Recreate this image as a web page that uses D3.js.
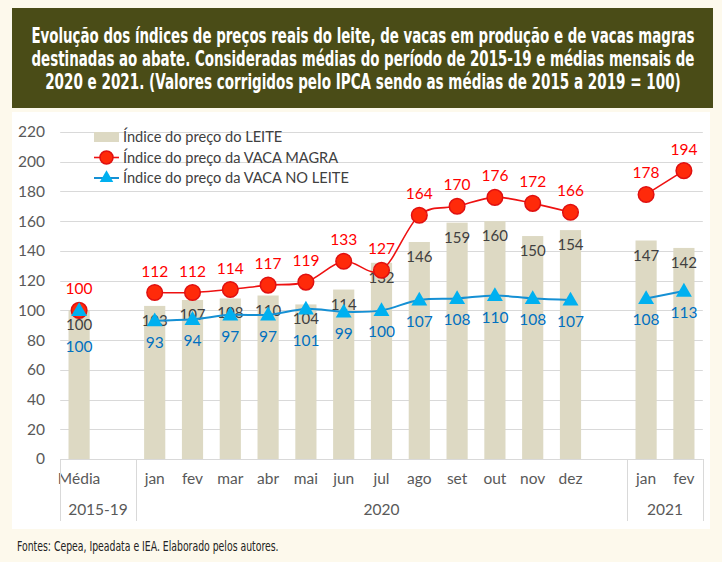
<!DOCTYPE html>
<html>
<head>
<meta charset="utf-8">
<script src="https://cdn.jsdelivr.net/npm/d3@7"></script>
<style>
  body { margin: 0; background: #fdf9ec; }
  svg { display: block; }
</style>
</head>
<body>
<script>
// categories (blank slots separate the periods, like the excel sheet)
var months = ["Média", "", "jan", "fev", "mar", "abr", "mai", "jun", "jul", "ago", "set", "out", "nov", "dez", "", "jan", "fev"];
var groupLabels = ["2015-19", "2020", "2021"];
var groupSizes = [2, 13, 2];

var leite   = [100, null, 103, 107, 108, 110, 104, 114, 132, 146, 159, 160, 150, 154, null, 147, 142];
var magra   = [100, null, 112, 112, 114, 117, 119, 133, 127, 164, 170, 176, 172, 166, null, 178, 194];
var noLeite = [100, null,  93,  94,  97,  97, 101,  99, 100, 107, 108, 110, 108, 107, null, 108, 113];

var yTicks = [0, 20, 40, 60, 80, 100, 120, 140, 160, 180, 200, 220];

var titleLines = [
  "Evolução dos índices de preços reais do leite, de vacas em produção e de vacas magras",
  "destinadas ao abate.  Consideradas médias do período de 2015-19 e médias mensais de",
  "2020 e 2021. (Valores corrigidos pelo IPCA sendo as médias de 2015 a 2019 = 100)"
];
var legendLabels = ["Índice do preço do LEITE", "Índice do preço da VACA MAGRA", "Índice do preço da VACA NO LEITE"];
var source = "Fontes: Cepea, Ipeadata e IEA. Elaborado pelos autores.";

var W = 722, H = 562;
var font = "Lato, 'Noto Sans', sans-serif";
var narrow = "'Liberation Sans Narrow', 'DejaVu Sans Condensed', sans-serif";

var svg = d3.select("body").append("svg")
    .attr("width", W)
    .attr("height", H);

svg.append("rect").attr("width", W).attr("height", H).attr("fill", "#fdf9ec");

// condensed text: size font so it fits the width, then stretch it up
function fitText(sel, txt, cxp, base, width, size, anchor, weight) {
  var t = sel.append("text")
      .style("font-family", narrow)
      .style("font-weight", weight)
      .style("font-size", size + "px")
      .attr("text-anchor", anchor)
      .text(txt);
  var len = t.node().getComputedTextLength();
  var fs = Math.min(size, size * width / len);
  var sy = size / fs;
  t.style("font-size", fs + "px")
      .attr("x", cxp)
      .attr("y", base / sy)
      .attr("transform", "scale(1," + sy + ")");
  return t;
}

// title box
svg.append("rect")
    .attr("x", 12).attr("y", 8)
    .attr("width", 701).attr("height", 100)
    .attr("fill", "#4a4c17");

var titleW = [664, 664, 636];
titleLines.forEach(function(d, i) {
  fitText(svg, d, 363, 43 + i * 23, titleW[i], 21, "middle", "bold")
      .attr("fill", "#ffffff");
});

// white chart panel
svg.append("rect")
    .attr("x", 12).attr("y", 112)
    .attr("width", 698).attr("height", 417)
    .attr("fill", "#ffffff");

// scales
var keys = months.map(function(d, i) { return i; });
var x = d3.scaleBand()
    .domain(keys)
    .range([60.2, 702.8])
    .paddingInner(0.44)
    .paddingOuter(0.22);

var y = d3.scaleLinear()
    .domain([0, 220])
    .range([459, 132]);

var g = svg.append("g");

// gridlines
g.selectAll("line.grid")
    .data(yTicks)
  .enter().append("line")
    .attr("x1", 60.2).attr("x2", 702.8)
    .attr("y1", function(d) { return Math.round(y(d)) + 0.5; })
    .attr("y2", function(d) { return Math.round(y(d)) + 0.5; })
    .attr("stroke", "#d9d9d9")
    .attr("stroke-width", 1);

// y axis labels
var yAxis = d3.axisLeft(y).tickValues(yTicks).tickSize(0).tickPadding(0);
var ya = svg.append("g").attr("transform", "translate(45,0)").call(yAxis);
ya.select(".domain").remove();
ya.selectAll("text")
    .style("font-family", font)
    .style("font-size", "15.5px")
    .attr("fill", "#595959");

// bars
var barPts = leite.map(function(v, i) { return {v: v, i: i}; }).filter(function(d) { return d.v != null; });
g.selectAll("rect.bar")
    .data(barPts)
  .enter().append("rect")
    .attr("class", "bar")
    .attr("x", function(d) { return x(d.i); })
    .attr("width", x.bandwidth())
    .attr("y", function(d) { return y(d.v); })
    .attr("height", function(d) { return y(0) - y(d.v); })
    .attr("fill", "#ddd9c3");

// two level category axis
var cx = function(i) { return x(i) + x.bandwidth() / 2; };
svg.selectAll("text.month")
    .data(months)
  .enter().append("text")
    .attr("x", function(d, i) { return cx(i); })
    .attr("y", 484)
    .attr("text-anchor", "middle")
    .style("font-family", font)
    .style("font-size", "15.5px")
    .attr("fill", "#595959")
    .text(function(d) { return d; });

var bounds = [0];
groupSizes.forEach(function(s, i) { bounds.push(bounds[i] + s); });
var edge = function(k) { return k < months.length ? x(k) - x.step() * x.paddingInner() / 2 : 702.8; };

svg.selectAll("line.sep")
    .data(bounds)
  .enter().append("line")
    .attr("x1", function(k) { return Math.round(edge(k)) + 0.5; })
    .attr("x2", function(k) { return Math.round(edge(k)) + 0.5; })
    .attr("y1", 459).attr("y2", 521)
    .attr("stroke", "#d9d9d9");

svg.selectAll("text.group")
    .data(groupLabels)
  .enter().append("text")
    .attr("x", function(d, i) { return (edge(bounds[i]) + edge(bounds[i + 1])) / 2; })
    .attr("y", 515)
    .attr("text-anchor", "middle")
    .style("font-family", font)
    .style("font-size", "15.5px")
    .attr("fill", "#595959")
    .text(function(d) { return d; });

// bar value labels (inside end)
g.selectAll("text.barlab")
    .data(barPts)
  .enter().append("text")
    .attr("x", function(d) { return cx(d.i); })
    .attr("y", function(d) { return y(d.v) + 20; })
    .attr("text-anchor", "middle")
    .style("font-family", font)
    .style("font-size", "15px")
    .attr("fill", "#404040")
    .text(function(d) { return d.v; });

// lines
var line = d3.line()
    .defined(function(d) { return d != null; })
    .x(function(d, i) { return cx(i); })
    .y(function(d) { return y(d); })
    .curve(d3.curveCatmullRom.alpha(0));

g.append("path")
    .datum(noLeite)
    .attr("d", line)
    .attr("fill", "none")
    .attr("stroke", "#1590d4")
    .attr("stroke-width", 2);

g.append("path")
    .datum(magra)
    .attr("d", line)
    .attr("fill", "none")
    .attr("stroke", "#ee1111")
    .attr("stroke-width", 1.6);

var tri = d3.symbol().type(d3.symbolTriangle).size(110);

var bluePts = noLeite.map(function(v, i) { return {v: v, i: i}; }).filter(function(d) { return d.v != null; });
var redPts = magra.map(function(v, i) { return {v: v, i: i}; }).filter(function(d) { return d.v != null; });

g.selectAll("circle.red")
    .data(redPts)
  .enter().append("circle")
    .attr("cx", function(d) { return cx(d.i); })
    .attr("cy", function(d) { return y(d.v); })
    .attr("r", 7.8)
    .attr("fill", "#ff2a0a")
    .attr("stroke", "#e01010")
    .attr("stroke-width", 1.5);

g.selectAll("path.blue")
    .data(bluePts)
  .enter().append("path")
    .attr("transform", function(d) { return "translate(" + cx(d.i) + "," + (y(d.v) + 1) + ")"; })
    .attr("d", tri)
    .attr("fill", "#00b0f0");

// point labels
g.selectAll("text.redlab")
    .data(redPts)
  .enter().append("text")
    .attr("x", function(d) { return cx(d.i); })
    .attr("y", function(d) { return y(d.v) - 16; })
    .attr("text-anchor", "middle")
    .style("font-family", font)
    .style("font-size", "15.5px")
    .attr("fill", "#ff0000")
    .text(function(d) { return d.v; });

g.selectAll("text.bluelab")
    .data(bluePts)
  .enter().append("text")
    .attr("x", function(d) { return cx(d.i); })
    .attr("y", function(d) {
      var ly = y(d.v) + 27;
      var b = leite[d.i];
      // push below the bar label if they would overlap
      if (b != null && Math.abs(ly - (y(b) + 20)) < 13) ly = y(b) + 20 + 22;
      return ly;
    })
    .attr("text-anchor", "middle")
    .style("font-family", font)
    .style("font-size", "15.5px")
    .attr("fill", "#0070c0")
    .text(function(d) { return d.v; });

// legend
var lg = svg.append("g");
var ly0 = 137, lstep = 20.5;
lg.append("rect")
    .attr("x", 94).attr("y", ly0 - 5)
    .attr("width", 25).attr("height", 10)
    .attr("fill", "#ddd9c3");
lg.append("line")
    .attr("x1", 94).attr("x2", 119)
    .attr("y1", ly0 + lstep).attr("y2", ly0 + lstep)
    .attr("stroke", "#ee1111").attr("stroke-width", 1.6);
lg.append("circle")
    .attr("cx", 106.5).attr("cy", ly0 + lstep).attr("r", 6.5)
    .attr("fill", "#ff2a0a").attr("stroke", "#e01010").attr("stroke-width", 1.5);
lg.append("line")
    .attr("x1", 94).attr("x2", 119)
    .attr("y1", ly0 + 2 * lstep).attr("y2", ly0 + 2 * lstep)
    .attr("stroke", "#1590d4").attr("stroke-width", 2);
lg.append("path")
    .attr("transform", "translate(106.5," + (ly0 + 2 * lstep) + ")")
    .attr("d", d3.symbol().type(d3.symbolTriangle).size(80))
    .attr("fill", "#00b0f0");
lg.selectAll("text")
    .data(legendLabels)
  .enter().append("text")
    .attr("x", 123)
    .attr("y", function(d, i) { return ly0 + i * lstep + 5; })
    .style("font-family", font)
    .style("font-size", "14.6px")
    .attr("fill", "#404040")
    .text(function(d) { return d; });

// source
fitText(svg, source, 17, 551, 262, 14, "start", "normal")
    .attr("fill", "#222222");
</script>
</body>
</html>
